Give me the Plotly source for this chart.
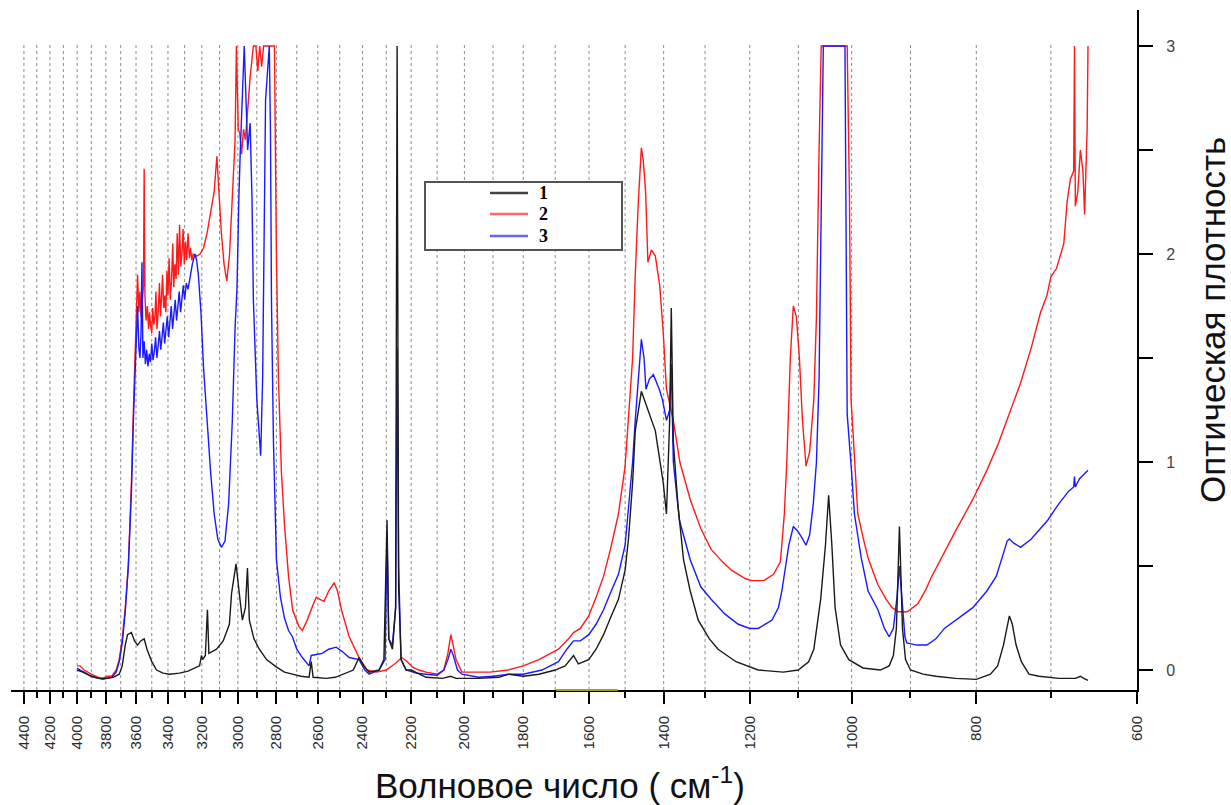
import plotly.graph_objects as go
import math

# ---------------- data ----------------
wn1 = [4000,3960,3900,3850,3800,3750,3710,3690,3670,3655,3630,3610,3590,3570,3548,3530,3500,3470,3430,3390,3330,3280,3240,3213,3202,3195,3180,3168,3160,3140,3117,3080,3046,3034,3010,2990,2976,2960,2949,2939,2915,2887,2850,2801,2760,2721,2680,2641,2631,2622,2561,2520,2487,2440,2415,2395,2372,2330,2310,2297,2290,2275,2262,2256,2250,2240,2220,2200,2142,2080,2050,2030,1950,1880,1847,1800,1750,1700,1670,1645,1631,1601,1580,1559,1540,1518,1500,1491,1480,1473,1457,1439,1421,1401,1393,1385,1381,1376,1365,1351,1335,1316,1290,1270,1230,1182,1130,1100,1080,1070,1057,1048,1042,1036,1030,1020,1005,980,950,935,928,923,920,918,916,913,908,900,880,860,830,800,780,770,762,756,754,750,745,738,728,715,690,670,664,660,655]
ab1 = [0.0,-0.01,-0.03,-0.04,-0.04,-0.035,-0.02,0.02,0.12,0.17,0.18,0.14,0.12,0.14,0.15,0.1,0.04,0.0,-0.015,-0.02,-0.015,-0.005,0.01,0.02,0.07,0.05,0.07,0.29,0.08,0.09,0.1,0.14,0.22,0.37,0.51,0.35,0.24,0.3,0.49,0.24,0.15,0.1,0.05,0.015,-0.01,-0.02,-0.03,-0.035,0.04,-0.035,-0.04,-0.035,-0.02,0.0,0.06,0.02,-0.01,0.0,0.05,0.72,0.15,0.1,0.3,3.0,0.4,0.05,0.0,0.0,-0.035,-0.04,-0.03,-0.04,-0.04,-0.035,-0.02,-0.03,-0.02,0.0,0.02,0.07,0.03,0.05,0.1,0.17,0.25,0.34,0.48,0.63,0.9,1.15,1.34,1.25,1.15,0.9,0.75,1.2,1.74,1.1,0.8,0.53,0.38,0.24,0.15,0.1,0.04,0.0,-0.01,0.0,0.04,0.1,0.34,0.6,0.84,0.6,0.3,0.12,0.05,0.01,0.0,0.02,0.07,0.2,0.45,0.69,0.5,0.2,0.05,0.0,-0.02,-0.03,-0.04,-0.045,-0.02,0.02,0.12,0.24,0.26,0.22,0.12,0.04,-0.02,-0.03,-0.04,-0.04,-0.03,-0.04,-0.05]

wn2 = [4000,3980,3950,3900,3850,3820,3790,3760,3730,3710,3690,3670,3650,3630,3615,3600,3590,3582,3575,3568,3560,3552,3548,3543,3536,3528,3520,3514,3508,3500,3494,3487,3480,3474,3468,3460,3452,3446,3440,3433,3426,3420,3413,3406,3400,3393,3386,3378,3371,3365,3358,3351,3344,3337,3330,3323,3316,3309,3302,3295,3288,3280,3272,3265,3258,3250,3230,3210,3190,3170,3150,3130,3115,3105,3090,3075,3060,3045,3030,3015,3008,2998,2990,2980,2970,2960,2948,2935,2918,2905,2895,2885,2875,2865,2810,2800,2790,2775,2760,2740,2720,2690,2673,2650,2620,2607,2590,2571,2550,2525,2510,2490,2458,2430,2415,2380,2340,2300,2265,2237,2215,2196,2170,2142,2100,2075,2060,2049,2040,2030,2009,1950,1910,1850,1800,1750,1690,1660,1645,1625,1601,1580,1559,1540,1518,1500,1491,1480,1473,1465,1457,1452,1446,1440,1431,1421,1410,1401,1393,1376,1360,1335,1310,1286,1260,1240,1210,1196,1170,1150,1136,1128,1123,1116,1110,1104,1098,1092,1085,1078,1070,1065,1060,1056,1008,1004,1001,995,989,980,971,962,954,940,930,920,905,888,875,868,850,830,805,785,770,755,739,725,713,705,700,693,688,684,680,676,672,671,670,667,664,661,659,657,656,655]
ab2 = [0.02,0.02,0.0,-0.02,-0.035,-0.04,-0.03,-0.03,0.0,0.05,0.15,0.3,0.5,0.9,1.3,1.68,1.9,1.72,1.82,1.7,1.78,1.85,2.41,1.8,1.68,1.75,1.64,1.72,1.66,1.62,1.74,1.66,1.7,1.82,1.64,1.72,1.86,1.7,1.78,1.9,1.74,1.8,1.72,1.92,1.8,1.98,1.78,1.88,2.05,1.84,1.95,1.88,2.1,1.9,2.14,1.94,2.0,2.12,1.95,2.06,1.97,2.1,1.98,2.03,1.97,2.0,1.99,2.0,2.03,2.1,2.2,2.3,2.47,2.3,2.1,1.95,1.87,2.0,2.3,2.55,3.0,2.6,2.58,2.48,2.6,2.55,2.69,2.85,3.0,3.0,2.88,3.0,2.9,3.0,3.0,2.0,1.4,0.95,0.7,0.45,0.29,0.21,0.19,0.24,0.32,0.35,0.34,0.33,0.38,0.42,0.38,0.28,0.16,0.1,0.06,0.0,-0.01,0.0,0.03,0.06,0.04,0.015,0.0,-0.01,-0.02,0.0,0.08,0.17,0.12,0.05,-0.01,-0.01,-0.01,0.0,0.02,0.05,0.1,0.15,0.18,0.2,0.26,0.35,0.45,0.58,0.75,0.98,1.2,1.5,1.9,2.25,2.51,2.45,2.3,1.96,2.02,1.99,1.85,1.62,1.35,1.2,1.0,0.82,0.68,0.58,0.52,0.48,0.44,0.43,0.43,0.46,0.52,0.75,1.0,1.5,1.75,1.7,1.5,1.2,0.98,1.05,1.3,1.7,2.5,3.0,3.0,2.3,1.3,1.0,0.75,0.64,0.54,0.47,0.41,0.34,0.3,0.28,0.28,0.32,0.39,0.44,0.55,0.67,0.82,0.96,1.08,1.22,1.38,1.55,1.72,1.8,1.89,1.93,2.0,2.05,2.25,2.36,2.4,3.0,2.23,2.3,2.5,2.4,2.19,2.45,2.6,3.0]

wn3 = [4000,3980,3950,3900,3850,3820,3790,3760,3730,3710,3690,3670,3650,3630,3615,3600,3590,3582,3575,3568,3562,3556,3548,3540,3532,3524,3516,3508,3500,3492,3484,3476,3468,3460,3452,3444,3436,3428,3420,3412,3404,3396,3388,3380,3372,3364,3356,3348,3340,3332,3324,3316,3308,3300,3290,3280,3270,3255,3240,3230,3220,3205,3190,3170,3150,3130,3110,3090,3070,3050,3030,3015,3005,2995,2987,2966,2955,2948,2940,2935,2925,2918,2900,2880,2870,2862,2855,2836,2830,2825,2815,2800,2780,2760,2740,2721,2700,2673,2641,2631,2610,2580,2550,2516,2490,2458,2415,2390,2372,2330,2305,2297,2290,2275,2262,2256,2250,2240,2220,2180,2142,2100,2075,2060,2049,2040,2025,2009,1950,1900,1847,1800,1741,1690,1665,1645,1625,1601,1580,1559,1540,1518,1500,1491,1480,1473,1465,1457,1450,1445,1436,1426,1411,1403,1393,1385,1381,1376,1361,1335,1310,1286,1255,1225,1200,1182,1153,1140,1133,1125,1119,1110,1102,1094,1085,1078,1071,1065,1060,1056,1052,1012,1010,1008,1000,995,983,971,954,943,935,928,922,918,914,909,906,890,874,860,847,825,805,785,772,763,757,754,748,739,725,704,690,678,672,671,670,665,660,655]
ab3 = [0.01,0.0,-0.01,-0.03,-0.04,-0.045,-0.04,-0.035,-0.01,0.04,0.13,0.28,0.5,0.85,1.25,1.6,1.75,1.55,1.5,1.62,1.96,1.5,1.58,1.47,1.54,1.46,1.52,1.48,1.57,1.49,1.53,1.6,1.5,1.56,1.63,1.54,1.6,1.67,1.57,1.64,1.7,1.6,1.68,1.75,1.64,1.72,1.78,1.68,1.76,1.82,1.72,1.8,1.85,1.78,1.86,1.83,1.88,1.95,2.0,1.97,1.9,1.72,1.45,1.2,0.95,0.75,0.63,0.59,0.62,0.8,1.2,1.65,1.83,2.26,2.5,3.0,2.74,2.5,2.58,2.63,2.26,1.78,1.3,1.03,1.4,2.0,2.74,3.0,2.58,1.78,1.1,0.53,0.35,0.25,0.19,0.16,0.1,0.06,0.02,0.07,0.075,0.08,0.1,0.11,0.09,0.06,0.05,0.0,-0.02,0.0,0.05,0.65,0.15,0.12,0.3,1.55,0.5,0.05,0.0,-0.015,-0.02,-0.025,0.0,0.05,0.1,0.07,0.0,-0.02,-0.035,-0.03,-0.02,-0.02,0.0,0.04,0.1,0.14,0.14,0.17,0.22,0.29,0.37,0.46,0.6,0.77,1.0,1.2,1.42,1.59,1.5,1.35,1.4,1.42,1.35,1.3,1.2,1.25,1.47,1.0,0.72,0.53,0.4,0.34,0.27,0.22,0.2,0.2,0.24,0.3,0.38,0.5,0.6,0.69,0.67,0.64,0.6,0.65,0.8,1.0,1.4,2.2,3.0,3.0,2.0,1.23,0.95,0.75,0.54,0.38,0.29,0.2,0.16,0.2,0.35,0.5,0.35,0.16,0.13,0.12,0.12,0.15,0.2,0.25,0.3,0.38,0.45,0.55,0.62,0.63,0.61,0.59,0.63,0.72,0.8,0.86,0.88,0.93,0.88,0.92,0.94,0.96]

series_names = ["1", "2", "3"]
series_colors = ["#1a1a1a", "#ff1a1a", "#1a1aff"]

x_major = [4400,4200,4000,3800,3600,3400,3200,3000,2800,2600,2400,2200,2000,1800,1600,1400,1200,1000,800,600]
x_minor = [4300,4100,3900,3700,3500,3300,3100,2900,2700,2500,2300,2100,1900,1700,1500,1300,1100,900,700]
y_major = [0, 1, 2, 3]
y_minor = [0.5, 1.5, 2.5]

x_title = "Волновое число ( см<sup>-1</sup>)"
y_title = "Оптическая плотность"

# ---------------- figure ----------------
W, H = 1231, 805
ML, MR, MT, MB = 11, 94, 10, 115
PW, PH = W - ML - MR, H - MT - MB
Y_LO, Y_HI = -0.096, 3.173
GRID_TOP = 3.01

def px(xp):   # pixel -> paper x
    return (xp - ML) / PW

def py(yp):   # pixel -> paper y
    return (H - MB - yp) / PH

fig = go.Figure()

# dotted vertical grid (stops at the top of the data box)
gx, gy = [], []
for v in sorted(x_major + x_minor, reverse=True):
    if v == 600:
        continue
    gx += [v, v, None]
    gy += [Y_LO, GRID_TOP, None]
fig.add_trace(go.Scatter(x=gx, y=gy, mode="lines", hoverinfo="skip", showlegend=False,
                         line=dict(color="#8c8c8c", width=1, dash="dot")))

for wn, ab, name, col in [(wn2, ab2, series_names[1], series_colors[1]),
                          (wn3, ab3, series_names[2], series_colors[2]),
                          (wn1, ab1, series_names[0], series_colors[0])]:
    fig.add_trace(go.Scatter(x=wn, y=ab, mode="lines", name=name, showlegend=False,
                             line=dict(color=col, width=1.4)))

fig.update_layout(
    width=W, height=H,
    margin=dict(l=ML, r=MR, t=MT, b=MB),
    paper_bgcolor="white", plot_bgcolor="white",
    font=dict(family="Liberation Sans, Arial, sans-serif", color="#222"),
)

fig.update_xaxes(
    type="log",
    range=[math.log10(4503), math.log10(600)],
    tickmode="array", tickvals=x_major, ticktext=[str(v) for v in x_major],
    tickangle=-90, tickfont=dict(size=15, color="#2a2a2a"),
    ticks="outside", ticklen=12, tickwidth=2, tickcolor="black",
    minor=dict(tickmode="array", tickvals=x_minor, ticks="outside", ticklen=6,
               tickwidth=2, tickcolor="black", showgrid=False),
    showgrid=False, zeroline=False,
    showline=True, linecolor="black", linewidth=2,
    ticklabelstandoff=6,
)

fig.update_yaxes(
    side="right",
    range=[Y_LO, Y_HI],
    tickmode="array", tickvals=y_major, ticktext=[str(v) for v in y_major],
    tickfont=dict(size=16, color="#444"),
    ticks="outside", ticklen=14, tickwidth=2, tickcolor="black",
    minor=dict(tickmode="array", tickvals=y_minor, ticks="outside", ticklen=14,
               tickwidth=2, tickcolor="black", showgrid=False),
    showgrid=False, zeroline=False,
    showline=True, linecolor="black", linewidth=2,
    ticklabelstandoff=10,
)

shapes = []
# small olive mark on the axis (as in the original)
shapes.append(dict(type="line", xref="paper", yref="paper", x0=px(556), x1=px(618), y0=py(690), y1=py(690),
                   line=dict(color="#a0a020", width=2)))
# legend box
shapes.append(dict(type="rect", xref="paper", yref="paper", x0=px(425), x1=px(622), y0=py(250), y1=py(182),
                   line=dict(color="#555", width=2), fillcolor="white", layer="above"))
rows = [193, 214, 236]
leg_cols = ["#444444", "#ff6666", "#6666ff"]
for r, c in zip(rows, leg_cols):
    shapes.append(dict(type="line", xref="paper", yref="paper", x0=px(490), x1=px(528), y0=py(r), y1=py(r),
                       line=dict(color=c, width=2.5), layer="above"))
fig.update_layout(shapes=shapes)

ann = []
for r, n in zip(rows, series_names):
    ann.append(dict(xref="paper", yref="paper", x=px(537), y=py(r), text="<b>%s</b>" % n, showarrow=False,
                    xanchor="left", yanchor="middle",
                    font=dict(family="Liberation Serif, Times New Roman, serif", size=18, color="black")))
ann.append(dict(xref="paper", yref="paper", x=px(560), y=py(783), text=x_title, showarrow=False,
                xanchor="center", yanchor="middle",
                font=dict(family="Liberation Sans, Arial, sans-serif", size=35, color="#111")))
ann.append(dict(xref="paper", yref="paper", x=px(1212), y=py(320), text=y_title, showarrow=False,
                textangle=-90, xanchor="center", yanchor="middle",
                font=dict(family="Liberation Sans, Arial, sans-serif", size=35, color="#111")))
fig.update_layout(annotations=ann)

fig.write_html("out.html")
